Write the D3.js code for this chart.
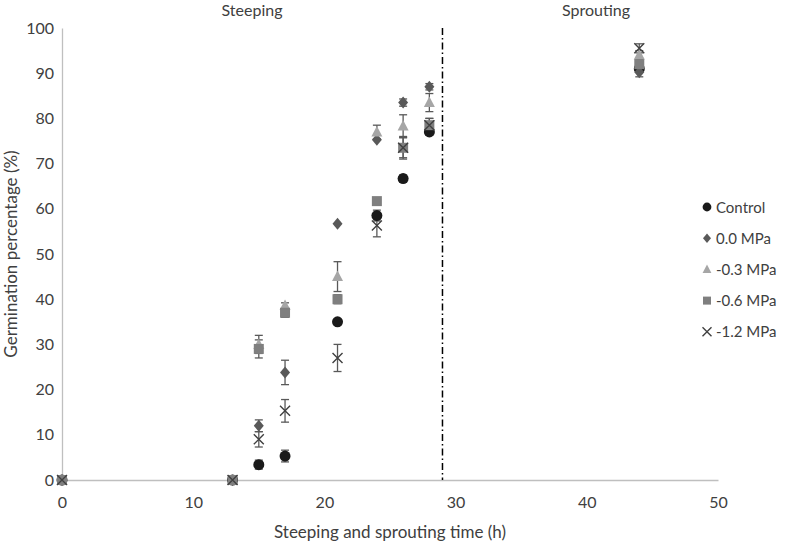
<!DOCTYPE html>
<html><head><meta charset="utf-8">
<script src="https://cdn.jsdelivr.net/npm/d3@7"></script>
<style>body{margin:0;background:#fff}svg{display:block}text{font-family:Lato,"Open Sans",sans-serif;fill:#404040}</style>
</head><body><svg id="c" width="800" height="550"></svg>
<script>
const times = [0, 13, 15, 17, 21, 24, 26, 28, 44];
const seriesNames = ["Control", "0.0 MPa", "-0.3 MPa", "-0.6 MPa", "-1.2 MPa"];
const controlVals = [0, 0, 3.4, 5.3, 35, 58.5, 66.7, 77, 91];
const controlErr  = [0, 0, 1.0, 1.3, 0, 1.2, 0.8, 0.7, 0];
const mpa00Vals = [0, 0, 12, 23.8, 56.7, 75.3, 83.5, 87, 90.2];
const mpa00Err  = [0, 0, 1.3, 2.7, 0, 0, 0.8, 0.7, 1];
const mpa03Vals = [0, 0, 30, 38.6, 45, 77, 78.3, 83.5, 94];
const mpa03Err  = [0, 0, 2, 0.6, 3.3, 1.5, 2.5, 2, 1];
const mpa06Vals = [0, 0, 29, 37, 40, 61.7, 73.5, 78.5, 92];
const mpa06Err  = [0, 0, 2, 1, 1, 0, 2.2, 1.5, 0];
const mpa12Vals = [0, 0, 9, 15.3, 27, 56.3, 73.5, 78.5, 95.5];
const mpa12Err  = [0, 0, 1.7, 2.5, 3, 2.5, 2.5, 1.5, 1];
const xTicks = [0, 10, 20, 30, 40, 50];
const yTicks = [0, 10, 20, 30, 40, 50, 60, 70, 80, 90, 100];
const dividerTime = 29;

const series = [
  {name: seriesNames[0], vals: controlVals, err: controlErr, shape: "circle", color: "#1a1a1a"},
  {name: seriesNames[1], vals: mpa00Vals, err: mpa00Err, shape: "diamond", color: "#595959"},
  {name: seriesNames[2], vals: mpa03Vals, err: mpa03Err, shape: "triangle", color: "#a6a6a6"},
  {name: seriesNames[3], vals: mpa06Vals, err: mpa06Err, shape: "square", color: "#7f7f7f"},
  {name: seriesNames[4], vals: mpa12Vals, err: mpa12Err, shape: "cross", color: "#404040"}
];

const svg = d3.select("#c");
const x = d3.scaleLinear().domain([0, 50]).range([62, 718]);
const y = d3.scaleLinear().domain([0, 100]).range([480, 28]);

// axes
const xa = svg.append("g").attr("transform", `translate(0,${y(0)})`)
  .call(d3.axisBottom(x).tickValues(xTicks).tickSize(0).tickPadding(17));
const ya = svg.append("g").attr("transform", `translate(${x(0)},0)`)
  .call(d3.axisLeft(y).tickValues(yTicks).tickSize(0).tickPadding(8));
[xa, ya].forEach(a => {
  a.select(".domain").attr("stroke", "#bfbfbf").attr("stroke-width", 1.3);
  a.selectAll("text").style("font-size", "16px").attr("fill", "#404040").style("font-family", "Lato, sans-serif");
});

// divider
svg.append("line").attr("x1", x(dividerTime)).attr("x2", x(dividerTime))
  .attr("y1", y(100)).attr("y2", y(0)).attr("stroke", "#000").attr("stroke-width", 1.5)
  .attr("stroke-dasharray", "7,3,1.5,3");
svg.append("text").attr("x", 252).attr("y", 16).attr("text-anchor", "middle").style("font-size", "16px").text("Steeping");
svg.append("text").attr("x", 596).attr("y", 16).attr("text-anchor", "middle").style("font-size", "16px").text("Sprouting");

// titles
svg.append("text").attr("x", x(25)).attr("y", 538).attr("text-anchor", "middle").style("font-size", "17px").text("Steeping and sprouting time (h)");
svg.append("text").attr("transform", `translate(17,${y(50)}) rotate(-90)`).attr("text-anchor", "middle").style("font-size", "17px").text("Germination percentage (%)");

function drawMarker(g, shape, color, size) {
  const s = size;
  if (shape === "circle") g.append("circle").attr("r", s*0.55).attr("fill", color);
  else if (shape === "diamond") g.append("path").attr("d", `M0,${-s*0.6}L${s*0.5},0L0,${s*0.6}L${-s*0.5},0Z`).attr("fill", color);
  else if (shape === "triangle") g.append("path").attr("d", `M0,${-s*0.6}L${s*0.55},${s*0.45}L${-s*0.55},${s*0.45}Z`).attr("fill", color);
  else if (shape === "square") g.append("rect").attr("x", -s*0.5).attr("y", -s*0.5).attr("width", s).attr("height", s).attr("fill", color);
  else if (shape === "cross") g.append("path").attr("d", `M${-s*0.5},${-s*0.5}L${s*0.5},${s*0.5}M${s*0.5},${-s*0.5}L${-s*0.5},${s*0.5}`).attr("stroke", color).attr("stroke-width", 1.4).attr("fill", "none");
}

// error bars
const eb = svg.append("g");
series.forEach(s => {
  times.forEach((t, i) => {
    const e = s.err[i];
    if (!e) return;
    const cx = x(t), y1 = y(s.vals[i] - e), y2 = y(s.vals[i] + e);
    eb.append("line").attr("x1", cx).attr("x2", cx).attr("y1", y1).attr("y2", y2).attr("stroke", "#595959").attr("stroke-width", 1.3);
    [y1, y2].forEach(yy => eb.append("line").attr("x1", cx-4).attr("x2", cx+4).attr("y1", yy).attr("y2", yy).attr("stroke", "#595959").attr("stroke-width", 1.3));
  });
});

// markers
series.forEach(s => {
  const g = svg.append("g");
  times.forEach((t, i) => {
    const m = g.append("g").attr("transform", `translate(${x(t)},${y(s.vals[i])})`);
    drawMarker(m, s.shape, s.color, 10);
  });
});

// legend
const lg = svg.append("g");
series.forEach((s, i) => {
  const yy = 207 + i*31.2;
  const m = lg.append("g").attr("transform", `translate(707,${yy})`);
  drawMarker(m, s.shape, s.color, s.shape === "cross" ? 9 : 8);
  lg.append("text").attr("x", 716).attr("y", yy + 5.5).style("font-size", "15px").text(s.name);
});
</script></body></html>
